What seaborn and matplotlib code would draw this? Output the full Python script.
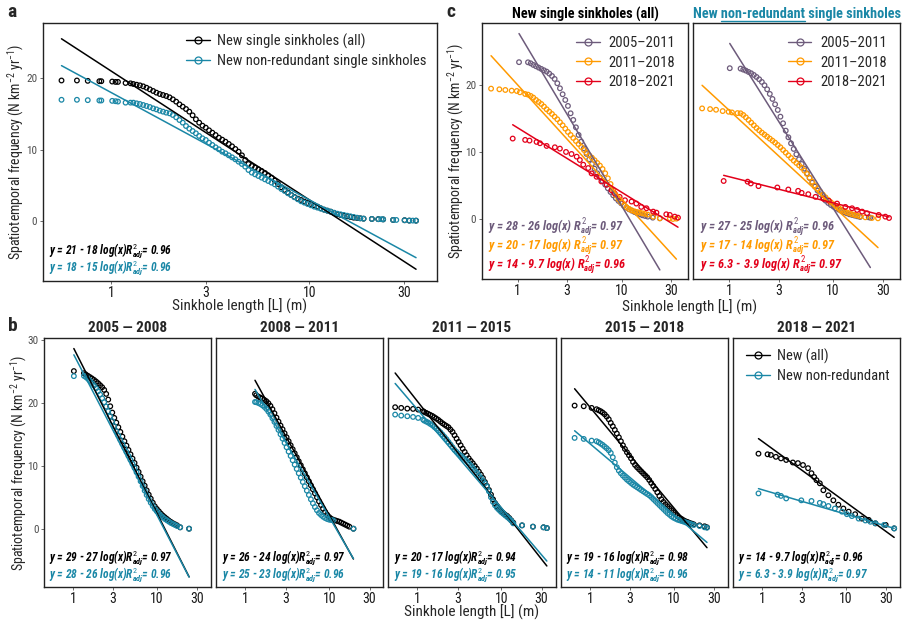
import numpy as np
import pandas as pd
import matplotlib
matplotlib.use("Agg")
import matplotlib.pyplot as plt
import seaborn as sns
from matplotlib import font_manager
from matplotlib.lines import Line2D

# ---------------- data ----------------
# panel a : all years pooled. flat head, dense band (read on a common x grid), tail
a_head_x = [0.56, 0.67, 0.76, 0.87, 0.89, 1.01, 1.05, 1.08, 1.18, 1.25]
a_all_head_y = [19.7, 19.7, 19.65, 19.6, 19.6, 19.55, 19.5, 19.5, 19.35, 19.3]
a_nr_head_y = [17.0, 17.0, 16.95, 16.9, 16.9, 16.85, 16.8, 16.75, 16.6, 16.6]
a_band_x = [1.292, 1.342, 1.394, 1.449, 1.505, 1.564, 1.626, 1.689, 1.755, 1.823, 1.894, 1.968, 2.045,
            2.125, 2.208, 2.294, 2.383, 2.476, 2.573, 2.673, 2.777, 2.886, 2.998, 3.115, 3.236, 3.362,
            3.494, 3.630, 3.771, 3.918, 4.071, 4.229, 4.395, 4.566, 4.744, 4.928, 5.121, 5.320, 5.527,
            5.743, 5.967, 6.200, 6.442, 6.692, 6.953, 7.224, 7.506, 7.798, 8.102, 8.418, 8.747, 9.088,
            9.442, 9.810, 10.19, 10.59, 11.00, 11.43, 11.88, 12.34, 12.82, 13.32, 13.84, 14.38, 14.94,
            15.52, 16.13, 16.76, 17.41, 18.09, 18.79]
a_all_band_y = [19.21, 19.11, 19.02, 18.88, 18.69, 18.46, 18.23, 18.00, 17.81, 17.67, 17.53, 17.34, 17.06,
                16.74, 16.36, 16.04, 15.71, 15.34, 14.83, 14.27, 13.80, 13.38, 13.10, 12.73, 12.40, 12.07,
                11.70, 11.42, 11.14, 10.82, 10.49, 10.12, 9.74, 9.23, 8.58, 8.02, 7.74, 7.51, 7.27,
                7.04, 6.76, 6.43, 6.11, 5.69, 5.22, 4.76, 4.38, 4.01, 3.68, 3.40, 3.17, 2.98,
                2.75, 2.56, 2.42, 2.24, 2.05, 1.82, 1.63, 1.49, 1.35, 1.17, 0.98, 0.89, 0.79,
                0.70, 0.61, 0.51, 0.47, 0.42, 0.37]
a_nr_band_y = [16.60, 16.50, 16.41, 16.27, 16.13, 15.99, 15.80, 15.66, 15.48, 15.34, 15.20, 15.10, 14.87,
               14.55, 14.17, 13.80, 13.33, 12.96, 12.63, 12.31, 11.94, 11.61, 11.38, 11.00, 10.68, 10.35,
               10.07, 9.74, 9.51, 9.23, 8.95, 8.67, 8.34, 8.02, 7.65, 7.18, 6.81, 6.57, 6.34,
               6.11, 5.87, 5.64, 5.41, 5.17, 4.85, 4.52, 4.24, 3.92, 3.68, 3.36, 3.08, 2.80,
               2.61, 2.42, 2.24, 2.05, 1.91, 1.77, 1.63, 1.49, 1.35, 1.21, 1.07, 0.98, 0.89,
               0.79, 0.70, 0.61, 0.51, 0.42, 0.37]
a_all_tail_x = [20.7, 22.3, 23.6, 26.5, 30.3, 32.0, 34.6]
a_all_tail_y = [0.33, 0.3, 0.27, 0.19, 0.15, 0.1, 0.09]
a_nr_tail_x = [20.7, 22.3, 23.1, 23.6, 26.5, 27.5, 30.3, 32.0, 33.3, 34.6]
a_nr_tail_y = [0.33, 0.3, 0.3, 0.27, 0.19, 0.19, 0.15, 0.1, 0.1, 0.09]
a_fit = [(21, -18), (18, -15)]
a_eq = ["y = 21 - 18 log(x)", "y = 18 - 15 log(x)"]
a_r2 = ["0.96", "0.96"]

# panel b : five periods, all vs non-redundant. bands read on one common x grid
b_periods = ["2005 \u2014 2008", "2008 \u2014 2011", "2011 \u2014 2015", "2015 \u2014 2018", "2018 \u2014 2021"]
b_grid_x = [1.203, 1.272, 1.345, 1.421, 1.502, 1.588, 1.679, 1.774, 1.876, 1.983, 2.096, 2.215, 2.342,
            2.475, 2.617, 2.766, 2.924, 3.090, 3.267, 3.453, 3.650, 3.858, 4.078, 4.311, 4.557, 4.817,
            5.092, 5.382, 5.689, 6.014, 6.357, 6.720, 7.103, 7.508, 7.937, 8.389, 8.868, 9.374, 9.908,
            10.47, 11.07, 11.70, 12.37, 13.08, 13.82, 14.61, 15.45, 16.33, 17.26]
b1_all_band_y = [24.76, 24.55, 24.34, 24.13, 23.92, 23.70, 23.44, 23.17, 22.86, 22.54, 22.12, 21.48, 20.58,
                 19.52, 18.52, 17.67, 16.93, 16.19, 15.45, 14.71, 13.97, 13.28, 12.59, 11.90, 11.22, 10.53,
                 9.79, 9.10, 8.36, 7.62, 6.93, 6.19, 5.50, 4.87, 4.23, 3.65, 3.23, 2.86, 2.49, 2.17, 1.90,
                 1.64, 1.38, 1.16, 0.95, 0.79, 0.63]
b1_nr_band_y = [24.34, 24.13, 23.86, 23.54, 23.17, 22.80, 22.38, 21.90, 21.38, 20.79, 20.16, 19.47, 18.73,
                17.94, 17.14, 16.35, 15.56, 14.87, 14.18, 13.54, 12.91, 12.28, 11.64, 11.01, 10.37, 9.74,
                9.05, 8.36, 7.62, 6.88, 6.14, 5.45, 4.81, 4.23, 3.70, 3.23, 2.86, 2.49, 2.17, 1.90, 1.64,
                1.43, 1.22, 1.01, 0.85, 0.69, 0.53]
b2_all_band_y = [21.27, 21.06, 20.90, 20.74, 20.53, 20.32, 20.00, 19.58, 19.05, 18.41, 17.72, 17.09, 16.46,
                 15.87, 15.24, 14.60, 13.97, 13.33, 12.70, 12.06, 11.43, 10.79, 10.16, 9.52, 8.89, 8.25,
                 7.62, 6.98, 6.35, 5.71, 5.08, 4.44, 3.86, 3.28, 2.75, 2.33, 1.96, 1.69, 1.53, 1.43, 1.32,
                 1.22, 1.06, 0.90, 0.74, 0.58, 0.42]
b2_nr_band_y = [20.16, 20.05, 19.89, 19.68, 19.42, 19.10, 18.68, 18.20, 17.62, 17.04, 16.40, 15.77, 15.08,
                14.39, 13.70, 13.02, 12.33, 11.64, 10.95, 10.26, 9.58, 8.89, 8.20, 7.51, 6.83, 6.14,
                5.45, 4.76, 4.13, 3.54, 3.02, 2.59, 2.28, 2.01, 1.80, 1.64, 1.53, 1.48, 1.43]
b3_head_x = [0.543, 0.641, 0.758, 0.887, 1.02, 1.17]
b3_all_head_y = [19.37, 19.26, 19.15, 19.10, 18.99, 18.73]
b3_nr_head_y = [18.2, 18.04, 17.94, 17.83, 17.67, 17.41]
b3_all_band_y = [18.62, 18.47, 18.31, 18.15, 17.99, 17.78, 17.57, 17.35, 17.09, 16.83, 16.61, 16.40, 16.19,
                 15.82, 15.45, 14.92, 14.39, 13.86, 13.33, 12.80, 12.28, 11.75, 11.27, 10.85, 10.48, 10.05,
                 9.63, 9.15, 8.68, 8.15, 7.51, 6.88, 6.24, 5.50, 4.76, 4.13, 3.60, 3.17, 2.86, 2.59, 2.33,
                 2.12, 1.80, 1.43, 1.06]
b3_nr_band_y = [17.25, 17.09, 16.93, 16.72, 16.51, 16.24, 15.98, 15.71, 15.40, 15.03, 14.66, 14.29, 13.86,
                13.44, 13.02, 12.59, 12.28, 11.96, 11.69, 11.43, 11.16, 10.85, 10.48, 10.11, 9.74, 9.37,
                8.99, 8.57, 8.15, 7.72, 7.30, 6.77, 6.03, 5.08, 4.34, 3.81, 3.39, 3.07, 2.75, 2.49, 2.22,
                1.96, 1.69, 1.38, 0.95]
b3_tail_x = [17.6, 23.7, 31.7, 34.7]
b3_tail_y = [0.63, 0.42, 0.32, 0.2]
b4_head_x = [0.659, 0.846, 1.05]
b4_all_head_y = [19.63, 19.52, 19.26]
b4_nr_head_y = [14.5, 14.34, 14.07]
b4_all_band_y = [19.05, 18.89, 18.73, 18.52, 18.25, 17.88, 17.46, 16.88, 16.35, 15.77, 15.19, 14.60, 13.97,
                 13.33, 12.75, 12.22, 11.75, 11.27, 10.69, 10.21, 9.84, 9.52, 9.21, 8.89, 8.57, 8.25,
                 7.83, 7.35, 6.88, 6.40, 5.87, 5.29, 4.76, 4.34, 3.97, 3.65, 3.33, 3.02, 2.70, 2.38, 2.12,
                 1.85, 1.64, 1.43, 1.27, 1.16, 1.01, 0.90, 0.79]
b4_nr_band_y = [13.97, 13.81, 13.60, 13.39, 13.12, 12.86, 12.54, 12.12, 11.43, 10.58, 9.84, 9.31, 8.89,
                8.52, 8.20, 7.88, 7.62, 7.35, 7.09, 6.88, 6.67, 6.46, 6.24, 6.03, 5.82, 5.61, 5.40, 5.13,
                4.81, 4.50, 4.18, 3.86, 3.54, 3.23, 2.91, 2.59, 2.33, 2.06, 1.85, 1.69, 1.53, 1.43, 1.32,
                1.22, 1.11, 1.01, 0.90, 0.79, 0.69]
b4_tail_x = [20.2, 23.2, 24.8]
b4_all_tail_y = [0.63, 0.48, 0.32]
b4_nr_tail_y = [0.53, 0.32, 0.26]
b5_all_x = [0.912, 1.17, 1.28, 1.47, 1.69, 1.95, 2.34, 2.69, 3.09, 3.55, 3.9, 4.2, 4.47, 4.9, 5.4, 6.2, 7.1,
            8.15, 9.35, 10.8, 12.9, 15.5, 18.7, 22.5, 29.8, 37.6]
b5_all_y = [12.0, 11.9, 11.8, 11.5, 11.25, 11.0, 10.6, 10.5, 10.2, 9.7, 8.9, 8.3, 7.8, 7.3, 6.2, 5.4, 4.6,
            3.9, 3.3, 2.8, 2.4, 1.7, 1.5, 0.95, 0.7, 0.15]
b5_nr_x = [0.912, 1.54, 1.69, 1.95, 2.95, 3.9, 4.9, 5.4, 6.2, 7.4, 9.0, 10.3, 11.8, 14.2, 17.1, 19.6, 22.5,
           28.5, 37.6]
b5_nr_y = [5.7, 5.5, 5.3, 4.9, 4.6, 4.5, 4.2, 4.0, 3.7, 3.3, 2.8, 2.4, 2.1, 1.7, 1.4, 1.2, 0.95, 0.7, 0.15]
b_fit_all = [(28.9, -26.4), (26.4, -24.2), (20.3, -16.95), (19.4, -16.0), (14, -9.7)]
b_fit_nr = [(27.9, -25.7), (24.8, -22.9), (19.0, -15.6), (13.6, -11.24), (6.3, -3.9)]
b_eq_all = ["y = 29 - 27 log(x)", "y = 26 - 24 log(x)", "y = 20 - 17 log(x)", "y = 19 - 16 log(x)", "y = 14 - 9.7 log(x)"]
b_r2_all = ["0.97", "0.97", "0.94", "0.98", "0.96"]
b_eq_nr = ["y = 28 - 26 log(x)", "y = 25 - 23 log(x)", "y = 19 - 16 log(x)", "y = 14 - 11 log(x)", "y = 6.3 - 3.9 log(x)"]
b_r2_nr = ["0.96", "0.96", "0.95", "0.96", "0.97"]

# panel c : three aggregated periods, left = all, right = non-redundant
c_periods = ["2005\u20132011", "2011\u20132018", "2018\u20132021"]
c1_band_x = [1.257, 1.334, 1.414, 1.501, 1.592, 1.689, 1.791, 1.900, 2.016, 2.139, 2.269, 2.407, 2.553,
             2.709, 2.873, 3.048, 3.233, 3.430, 3.639, 3.860, 4.095, 4.344, 4.608, 4.889, 5.186, 5.502,
             5.836, 6.191, 6.568, 6.967, 7.391, 7.841, 8.318, 8.823, 9.360, 9.930, 10.53, 11.17, 11.85,
             12.57, 13.34, 14.15, 15.01, 15.92, 16.89, 17.92]
c1_p1_band_y = [23.38, 23.23, 22.99, 22.79, 22.59, 22.39, 22.19, 21.99, 21.69, 21.34, 20.90, 20.25, 19.50,
                18.61, 17.76, 16.87, 15.77, 14.78, 13.68, 12.54, 11.54, 10.55, 9.70, 8.91, 8.21, 7.51,
                6.82, 6.22, 5.67, 5.12, 4.58, 4.03, 3.53, 3.08, 2.69, 2.34, 1.99, 1.69, 1.44,
                1.24, 1.04, 0.85, 0.70, 0.55, 0.45, 0.35]
c1_p2_band_y = [18.56, 18.36, 18.11, 17.76, 17.46, 17.16, 16.77, 16.37, 16.02, 15.67, 15.27, 14.88, 14.43,
                13.98, 13.48, 12.99, 12.54, 12.09, 11.64, 11.19, 10.75, 10.30, 9.90, 9.50, 9.15, 8.76,
                8.36, 7.96, 7.46, 6.82, 6.07, 5.22, 4.33, 3.53, 2.94, 2.44, 2.04, 1.74, 1.49,
                1.29, 1.14, 1.04, 0.95, 0.85, 0.75, 0.65]
c1_p1_x = [1.03] + c1_band_x + [20.0, 23.4]
c1_p1_y = [23.4] + c1_p1_band_y + [0.2, 0.1]
c1_p2_x = [0.554, 0.666, 0.76, 0.875, 0.98, 1.05, 1.18] + c1_band_x + [20.2, 23.4, 29.2, 31.3, 33.8]
c1_p2_y = [19.45, 19.35, 19.25, 19.15, 19.1, 18.9, 18.65] + c1_p2_band_y + [0.35, 0.1, 0.1, 0.0, 0.05]
c1_p3_x = [0.895, 1.18, 1.3, 1.52, 1.64, 1.9, 2.28, 2.55, 2.92, 3.3, 3.7, 3.97, 4.28, 4.78, 5.15, 5.75, 6.4,
           7.2, 8.0, 8.6, 9.6, 10.8, 12.5, 13.9, 15.5, 17.4, 20.2, 21.7, 27.0, 29.2, 32.6, 35.0]
c1_p3_y = [12.0, 11.8, 11.7, 11.5, 11.3, 10.9, 10.7, 10.5, 10.0, 9.7, 9.3, 8.8, 8.1, 7.6, 6.8, 6.3, 5.6,
           5.1, 4.3, 3.8, 3.3, 2.8, 2.6, 2.3, 1.8, 1.6, 1.1, 0.95, 0.7, 0.6, 0.35, 0.2]
c2_band_x = [1.284, 1.362, 1.444, 1.532, 1.625, 1.723, 1.828, 1.939, 2.057, 2.182, 2.313, 2.454, 2.603,
             2.760, 2.928, 3.105, 3.293, 3.493, 3.705, 3.929, 4.168, 4.420, 4.688, 4.972, 5.273, 5.593,
             5.932, 6.291, 6.673, 7.077, 7.506, 7.961, 8.443, 8.955, 9.498, 10.07, 10.69, 11.33, 12.02,
             12.75, 13.52, 14.34, 15.21, 16.13, 17.11, 18.15]
c2_p1_band_y = [22.44, 22.29, 22.14, 21.94, 21.74, 21.49, 21.19, 20.85, 20.45, 19.95, 19.35, 18.66, 17.91,
                17.11, 16.27, 15.27, 14.28, 13.18, 12.19, 11.29, 10.45, 9.65, 8.91, 8.21, 7.51, 6.82,
                6.12, 5.42, 4.83, 4.23, 3.68, 3.18, 2.74, 2.39, 2.09, 1.84, 1.59, 1.39, 1.19,
                0.99, 0.85, 0.70, 0.60, 0.50, 0.40, 0.30]
c2_p2_band_y = [15.77, 15.52, 15.17, 14.78, 14.38, 13.98, 13.58, 13.23, 12.89, 12.59, 12.29, 11.99, 11.69,
                11.39, 11.04, 10.70, 10.30, 9.90, 9.50, 9.10, 8.71, 8.36, 8.01, 7.66, 7.21, 6.72,
                6.17, 5.57, 5.02, 4.53, 4.08, 3.63, 3.23, 2.84, 2.49, 2.19, 1.89, 1.64, 1.39,
                1.19, 0.99, 0.85, 0.70, 0.60, 0.50, 0.40]
c2_p1_x = [1.01] + c2_band_x + [22.0, 22.8]
c2_p1_y = [22.5] + c2_p1_band_y + [0.25, 0.2]
c2_p2_x = [0.547, 0.653, 0.745, 0.863, 0.985, 1.06, 1.2] + c2_band_x + [20.4, 23.6, 27.0]
c2_p2_y = [16.5, 16.4, 16.3, 16.1, 16.0, 15.9, 15.8] + c2_p2_band_y + [0.25, 0.15, 0.1]
c2_p3_x = [0.882, 1.5, 1.61, 1.91, 2.9, 3.7, 4.6, 4.97, 5.76, 6.76, 8.1, 9.1, 10.9, 13.1, 15.2, 17.0, 19.0,
           21.2, 27.4, 31.8, 34.5]
c2_p3_y = [5.67, 5.57, 5.3, 4.9, 4.7, 4.4, 4.2, 3.9, 3.7, 3.3, 3.0, 2.7, 2.3, 1.8, 1.6, 1.35, 1.1, 0.85,
           0.6, 0.35, 0.15]
c_fit_all = [(28, -26), (20, -17), (13.6, -9.6)]
c_fit_nr = [(26.3, -24.7), (16.2, -14.3), (6.3, -3.9)]
c_eq_all = ["y = 28 - 26 log(x)", "y = 20 - 17 log(x)", "y = 14 - 9.7 log(x)"]
c_r2_all = ["0.97", "0.97", "0.96"]
c_eq_nr = ["y = 27 - 25 log(x)", "y = 17 - 14 log(x)", "y = 6.3 - 3.9 log(x)"]
c_r2_nr = ["0.96", "0.97", "0.97"]

BLACK = "#000000"
TEAL = "#1a87a6"
c_colors = ["#6d5b7b", "#ff9a00", "#e3001a"]

# ---------------- style ----------------
sns.set_theme(style="white")
names = {f.name for f in font_manager.fontManager.ttflist}
font = next(n for n in ["Roboto Condensed", "Liberation Sans Narrow", "Roboto", "DejaVu Sans"] if n in names)
plt.rcParams["font.family"] = [font, "DejaVu Sans"]
plt.rcParams["mathtext.fontset"] = "custom"
plt.rcParams["mathtext.rm"] = font
plt.rcParams["mathtext.it"] = font + ":italic:bold"
plt.rcParams["mathtext.bf"] = font + ":bold"

W, H = 904, 622
fig = plt.figure(figsize=(W / 100, H / 100), dpi=100)


def rect(l, t, r, b):
    return [l / W, 1 - b / H, (r - l) / W, (b - t) / H]


YLAB = r"Spatiotemporal frequency (N km$^{\mathrm{-2}}$ yr$^{\mathrm{-1}}$)"
XLAB = "Sinkhole length [L] (m)"


def style_ax(ax, ylim, yticks, show_y=True):
    ax.set_xscale("log")
    ax.set_xlim(0.45, 44)
    ax.set_ylim(*ylim)
    ax.set_xticks([1, 3, 10, 30])
    ax.set_xticklabels(["1", "3", "10", "30"])
    ax.xaxis.set_minor_locator(matplotlib.ticker.NullLocator())
    ax.set_xlabel("")
    ax.set_ylabel("")
    if show_y:
        ax.set_yticks(yticks)
        ax.set_yticklabels([str(v) for v in yticks])
    else:
        ax.set_yticks([])
    ax.tick_params(axis="x", bottom=True, length=2.5, width=0.6, color="#555555",
                   labelsize=10, labelcolor="#1a1a1a", pad=1.0)
    ax.tick_params(axis="y", left=show_y, length=2.5, width=0.6, color="#555555",
                   labelsize=8, labelcolor="#4d4d4d", pad=1.5)
    for s in ax.spines.values():
        s.set_color("#222222")
        s.set_linewidth(1.0)


def points(ax, xs, ys, col):
    sns.scatterplot(x=xs, y=ys, ax=ax, marker="o", s=11, facecolor="none",
                    edgecolor=col, linewidth=0.9, legend=False)


def fit(ax, xs, ab, col):
    x0, x1 = min(xs), max(xs)
    a, b = ab
    sns.lineplot(x=[x0, x1], y=[a + b * np.log10(x0), a + b * np.log10(x1)], ax=ax,
                 color=col, linewidth=1.1, legend=False)


def eq_text(ax, x, y, eq, r2, col, sep="", size=8.3):
    ax.text(x, y, eq + sep + r"$R^{\mathit{2}}_{adj}$= " + r2, transform=ax.transAxes,
            color=col, fontsize=size, fontweight="bold", fontstyle="italic", va="baseline")


def handle(col):
    return Line2D([0], [0], color=col, lw=1.0, marker="o", mfc="none", mec=col, ms=5, mew=0.9)


# ---------------- panel a ----------------
a_all_x = a_head_x + a_band_x + a_all_tail_x
a_all_y = a_all_head_y + a_all_band_y + a_all_tail_y
a_nr_x = a_head_x + a_band_x + a_nr_tail_x
a_nr_y = a_nr_head_y + a_nr_band_y + a_nr_tail_y

ax_a = fig.add_axes(rect(42.7, 23.3, 436.7, 281))
points(ax_a, a_all_x, a_all_y, BLACK)
points(ax_a, a_nr_x, a_nr_y, TEAL)
fit(ax_a, a_all_x, a_fit[0], BLACK)
fit(ax_a, a_nr_x, a_fit[1], TEAL)
style_ax(ax_a, (-8.35, 27.7), [0, 10, 20])
eq_text(ax_a, 0.017, 0.105, a_eq[0], a_r2[0], BLACK)
eq_text(ax_a, 0.017, 0.040, a_eq[1], a_r2[1], TEAL)
ax_a.legend([handle(BLACK), handle(TEAL)],
            ["New single sinkholes (all)", "New non-redundant single sinkholes"],
            loc="upper right", frameon=False, alignment="right", fontsize=10.5,
            handlelength=1.6, handletextpad=0.5, labelspacing=0.35, borderaxespad=0.3)
ax_a.set_ylabel(YLAB, fontsize=10)
ax_a.yaxis.set_label_coords(-0.042, 0.5)
fig.text(239.7 / W, 1 - 306.5 / H, XLAB, ha="center", va="center", fontsize=11)

# ---------------- panel c ----------------
c_all_x = [c1_p1_x, c1_p2_x, c1_p3_x]
c_all_y = [c1_p1_y, c1_p2_y, c1_p3_y]
c_nr_x = [c2_p1_x, c2_p2_x, c2_p3_x]
c_nr_y = [c2_p1_y, c2_p2_y, c2_p3_y]
c_axes = [fig.add_axes(rect(481.7, 23.3, 688.3, 279.3)), fig.add_axes(rect(693.3, 23.3, 900, 279.3))]
for k, (ax, xs_l, ys_l, fits, eqs, r2s) in enumerate(zip(
        c_axes, [c_all_x, c_nr_x], [c_all_y, c_nr_y], [c_fit_all, c_fit_nr],
        [c_eq_all, c_eq_nr], [c_r2_all, c_r2_nr])):
    for xs, ys, col in zip(xs_l, ys_l, c_colors):
        points(ax, xs, ys, col)
    for xs, ab, col in zip(xs_l, fits, c_colors):
        fit(ax, xs, ab, col)
    style_ax(ax, (-9.0, 29.2), [0, 10, 20], show_y=(k == 0))
    for yy, eq, r2, col in zip([0.188, 0.115, 0.042], eqs, r2s, c_colors):
        eq_text(ax, 0.032, yy, eq, r2, col, sep=" ", size=8.9)
    ax.legend([handle(c) for c in c_colors], c_periods, loc="upper right", frameon=False,
              alignment="right", fontsize=10.5, handlelength=1.6, handletextpad=0.6,
              labelspacing=0.35, borderaxespad=0.5)
c_axes[0].set_ylabel(YLAB, fontsize=10)
c_axes[0].yaxis.set_label_coords(-0.078, 0.5)
fig.text(690 / W, 1 - 307.5 / H, XLAB, ha="center", va="center", fontsize=11)
fig.text(585 / W, 1 - 14 / H, "New single sinkholes (all)", ha="center", va="center",
         fontsize=10.3, fontweight="bold", color=BLACK)
t_nr = fig.text(796.7 / W, 1 - 14 / H, "New non-redundant single sinkholes", ha="center",
                va="center", fontsize=10.3, fontweight="bold", color=TEAL)

# ---------------- panel b ----------------
b_all_x = [[1.02] + b_grid_x[2:] + [18.8, 24.0],
           [1.30] + b_grid_x[2:] + [19.3],
           b3_head_x + b_grid_x[:45] + b3_tail_x,
           b4_head_x + b_grid_x + b4_tail_x,
           b5_all_x]
b_all_y = [[25.1] + b1_all_band_y + [0.32, 0.1],
           [21.5] + b2_all_band_y + [0.1],
           b3_all_head_y + b3_all_band_y + b3_tail_y,
           b4_all_head_y + b4_all_band_y + b4_all_tail_y,
           b5_all_y]
b_nr_x = [[1.02] + b_grid_x[2:] + [18.8, 24.0],
          [1.30] + b_grid_x[2:41] + [19.3],
          b3_head_x + b_grid_x[:45] + b3_tail_x,
          b4_head_x + b_grid_x + b4_tail_x,
          b5_nr_x]
b_nr_y = [[24.3] + b1_nr_band_y + [0.32, 0.1],
          [20.2] + b2_nr_band_y + [0.1],
          b3_nr_head_y + b3_nr_band_y + b3_tail_y,
          b4_nr_head_y + b4_nr_band_y + b4_nr_tail_y,
          b5_nr_y]

b_lefts = [44, 216.3, 388.3, 560.7, 732.7]
b_axes = []
for i, l in enumerate(b_lefts):
    ax = fig.add_axes(rect(l, 338.3, l + 167.2, 586.7))
    b_axes.append(ax)
    points(ax, b_all_x[i], b_all_y[i], BLACK)
    points(ax, b_nr_x[i], b_nr_y[i], TEAL)
    fit(ax, b_all_x[i], b_fit_all[i], BLACK)
    fit(ax, b_nr_x[i], b_fit_nr[i], TEAL)
    style_ax(ax, (-9.1, 30.3), [0, 10, 20, 30], show_y=(i == 0))
    eq_text(ax, 0.032, 0.107, b_eq_all[i], b_r2_all[i], BLACK)
    eq_text(ax, 0.032, 0.036, b_eq_nr[i], b_r2_nr[i], TEAL)
    ax.text(0.5, 1.041, b_periods[i], transform=ax.transAxes, ha="center", va="center",
            fontsize=11, fontweight="bold")
b_axes[-1].legend([handle(BLACK), handle(TEAL)], ["New (all)", "New non-redundant"],
                  loc="upper right", frameon=False, alignment="right", fontsize=10.5,
                  handlelength=1.6, handletextpad=0.5, labelspacing=0.35, borderaxespad=0.3)
b_axes[0].set_ylabel(YLAB, fontsize=10)
b_axes[0].yaxis.set_label_coords(-0.09, 0.5)
fig.text(471.8 / W, 1 - 612 / H, XLAB, ha="center", va="center", fontsize=11)

# panel letters
for lab, x, y in [("a", 12, 12), ("b", 13, 326), ("c", 451, 12)]:
    fig.text(x / W, 1 - y / H, lab, ha="center", va="center", fontsize=14, fontweight="bold")

# underline "non-redundant" in the right-hand title of panel c
fig.canvas.draw()
r = fig.canvas.get_renderer()
bb = t_nr.get_window_extent(r)


def text_w(s):
    t = fig.text(0, 0, s, fontsize=10.3, fontweight="bold")
    w = t.get_window_extent(r).width
    t.remove()
    return w


u1 = bb.x0 + text_w("New non-redundant")
u0 = u1 - text_w("non-redundant")
uy = bb.y0 + 0.5
fig.add_artist(Line2D([u0 / W, u1 / W], [uy / H, uy / H], transform=fig.transFigure,
                      color=TEAL, lw=1.0))

fig.savefig("out.png", dpi=100)
